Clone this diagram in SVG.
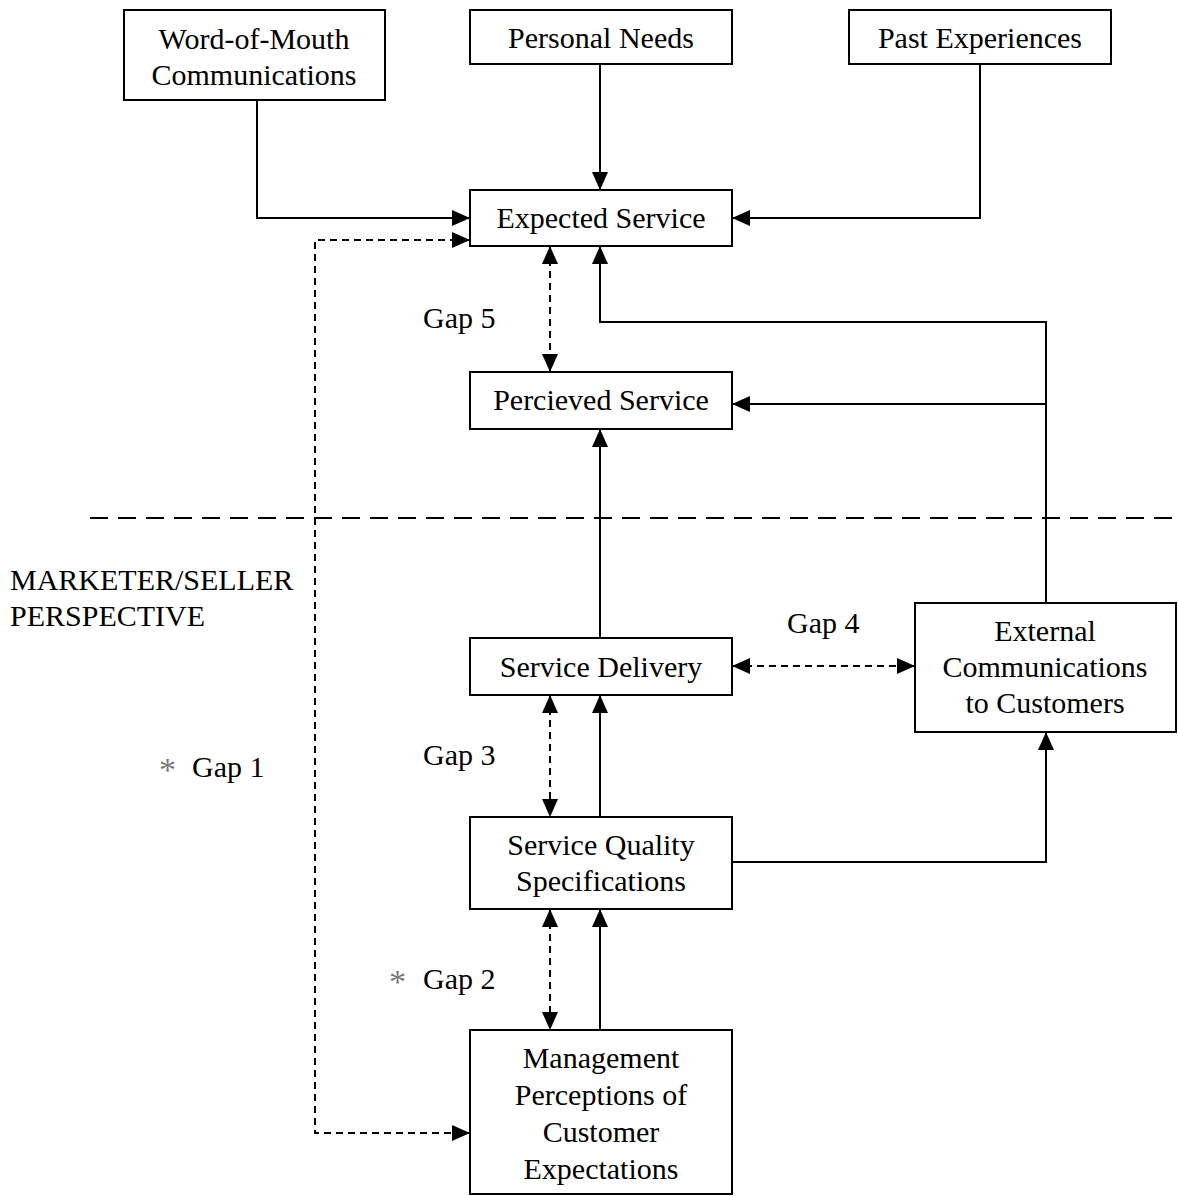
<svg xmlns="http://www.w3.org/2000/svg" width="1178" height="1196" viewBox="0 0 1178 1196">
<style>
.box{fill:#fff;stroke:#000;stroke-width:2}
.t{font-family:"Liberation Serif",serif;font-size:30px;fill:#000;text-anchor:middle}
.l{font-family:"Liberation Serif",serif;font-size:30px;fill:#000}
.ast{fill:#777;font-size:34px}
.c{fill:none;stroke:#000;stroke-width:2}
.d{stroke-dasharray:7 5}
</style>
<defs>
<marker id="ah" markerUnits="userSpaceOnUse" markerWidth="18" markerHeight="16" refX="17" refY="8" orient="auto-start-reverse" viewBox="0 0 18 16">
<path d="M0,0 L18,8 L0,16 Z" fill="#000"/>
</marker>
</defs>
<rect width="1178" height="1196" fill="#fff"/>
<g id="connectors">
<path class="c" d="M257,100 V218 H469" marker-end="url(#ah)"/>
<path class="c" d="M600,64 V189" marker-end="url(#ah)"/>
<path class="c" d="M980,64 V218 H733" marker-end="url(#ah)"/>
<path class="c d" d="M469,240 H315 V1133 H469" marker-start="url(#ah)" marker-end="url(#ah)"/>
<path class="c d" d="M550,247 V371" marker-start="url(#ah)" marker-end="url(#ah)"/>
<path class="c" d="M1046,603 V322 H600 V247" marker-end="url(#ah)"/>
<path class="c" d="M1046,404 H733" marker-end="url(#ah)"/>
<path class="c" d="M600,638 V430" marker-end="url(#ah)"/>
<path class="c d" d="M733,666 H914" marker-start="url(#ah)" marker-end="url(#ah)"/>
<path class="c d" d="M550,696 V816" marker-start="url(#ah)" marker-end="url(#ah)"/>
<path class="c" d="M600,817 V696" marker-end="url(#ah)"/>
<path class="c" d="M732,862 H1046 V733" marker-end="url(#ah)"/>
<path class="c d" d="M550,910 V1029" marker-start="url(#ah)" marker-end="url(#ah)"/>
<path class="c" d="M600,1030 V910" marker-end="url(#ah)"/>
<path class="c" d="M90,518 H1178" stroke-dasharray="18 10"/>
</g>
<g id="word-of-mouth"><rect class="box" x="124" y="10" width="261" height="90"/><text class="t" x="254" y="49">Word-of-Mouth</text><text class="t" x="254" y="85">Communications</text></g>
<g id="personal-needs"><rect class="box" x="470" y="10" width="262" height="54"/><text class="t" x="601" y="48">Personal Needs</text></g>
<g id="past-experiences"><rect class="box" x="849" y="10" width="262" height="54"/><text class="t" x="980" y="48">Past Experiences</text></g>
<g id="expected-service"><rect class="box" x="470" y="190" width="262" height="56"/><text class="t" x="601" y="228">Expected Service</text></g>
<g id="percieved-service"><rect class="box" x="470" y="372" width="262" height="57"/><text class="t" x="601" y="410">Percieved Service</text></g>
<g id="service-delivery"><rect class="box" x="470" y="638" width="262" height="57"/><text class="t" x="601" y="677">Service Delivery</text></g>
<g id="external-communications"><rect class="box" x="915" y="603" width="261" height="129"/><text class="t" x="1045" y="641">External</text><text class="t" x="1045" y="677">Communications</text><text class="t" x="1045" y="713">to Customers</text></g>
<g id="service-quality"><rect class="box" x="470" y="817" width="262" height="92"/><text class="t" x="601" y="855">Service Quality</text><text class="t" x="601" y="891">Specifications</text></g>
<g id="management"><rect class="box" x="470" y="1030" width="262" height="164"/><text class="t" x="601" y="1068">Management</text><text class="t" x="601" y="1105">Perceptions of</text><text class="t" x="601" y="1142">Customer</text><text class="t" x="601" y="1179">Expectations</text></g>
<g id="labels">
<text class="l" x="423" y="328">Gap 5</text>
<text class="l" x="10" y="590">MARKETER/SELLER</text>
<text class="l" x="10" y="626">PERSPECTIVE</text>
<text class="l" x="159" y="781"><tspan class="ast">*</tspan><tspan x="192" y="777">Gap 1</tspan></text>
<text class="l" x="787" y="633">Gap 4</text>
<text class="l" x="423" y="765">Gap 3</text>
<text class="l" x="389" y="993"><tspan class="ast">*</tspan><tspan x="423" y="989">Gap 2</tspan></text>
</g>
</svg>
